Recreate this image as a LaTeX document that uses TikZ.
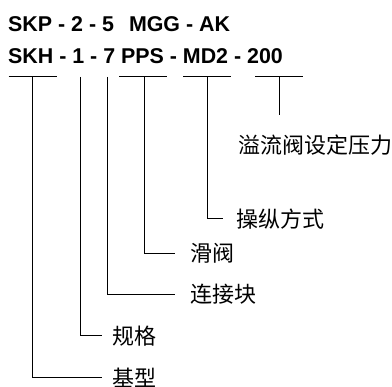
\documentclass[tikz,border=0pt]{standalone}
\usepackage{fontspec}
\setmainfont{Liberation Sans}
\newfontfamily\cjk{Noto Sans CJK SC}

\begin{document}
\begin{tikzpicture}[x=1pt, y=-1pt,
        codi/.style={anchor=base west, inner sep=0pt, font=\bfseries\fontsize{21.4}{24}\selectfont},
        etiq/.style={anchor=west, inner sep=0pt, font=\cjk\fontsize{22}{24}\selectfont},
        linia/.style={line width=1pt, color=black}]
        \useasboundingbox (0,0) rectangle (392,387);

        % Codis de model
        \node[codi] (model1) at (8,31.7) {SKP - 2 - 5\hspace{15pt}MGG - AK};
        \node[codi] (model2) at (8,64) {SKH - 1 - 7 PPS - MD2 - 200};

        % Punts sota cada camp del codi
        \coordinate (c1) at (32.5,77);
        \coordinate (c2) at (80,77);
        \coordinate (c3) at (107.3,77);
        \coordinate (c4) at (144.3,77);
        \coordinate (c5) at (207.3,77);
        \coordinate (c6) at (279.3,77);
        \coordinate (f6) at (279.3,115);

        % Etiquetes
        \node[etiq] (yl) at (238.3,145) {溢流阀设定压力};
        \node[etiq] (czfs) at (236.7,219) {操纵方式};
        \node[etiq] (hf) at (190.7,253.3) {滑阀};
        \node[etiq] (ljk) at (190.7,294.3) {连接块};
        \node[etiq] (gg) at (112,335.7) {规格};
        \node[etiq] (jx) at (112,377.7) {基型};

        % Barres horitzontals
        \draw[linia] ([xshift=-24pt]c1) -- ([xshift=24pt]c1);
        \draw[linia] ([xshift=-25pt]c4) -- ([xshift=23pt]c4);
        \draw[linia] ([xshift=-24pt]c5) -- ([xshift=24pt]c5);
        \draw[linia] ([xshift=-24pt]c6) -- ([xshift=24pt]c6);

        % Linies cap a les etiquetes
        \draw[linia, shorten >=10pt] (c1) |- (jx.west);
        \draw[linia, shorten >=10pt] (c2) |- (gg.west);
        \draw[linia, shorten >=15.7pt] (c3) |- (ljk.west);
        \draw[linia, shorten >=15.7pt] (c4) |- (hf.west);
        \draw[linia, shorten >=14pt] (c5) |- (czfs.west);
        \draw[linia] (c6) -- (f6);

    \end{tikzpicture}
\end{document}
